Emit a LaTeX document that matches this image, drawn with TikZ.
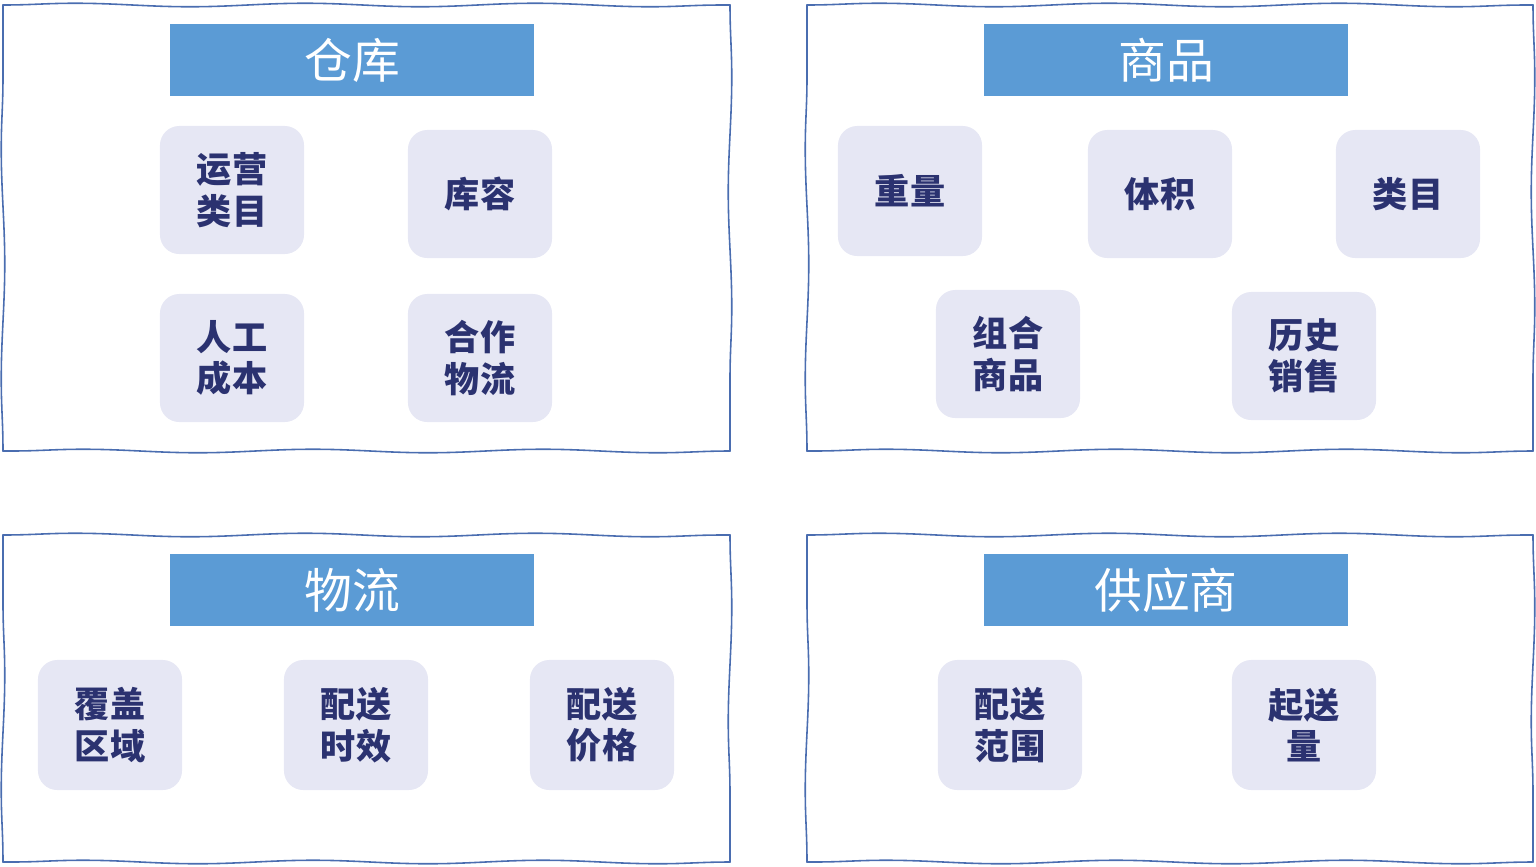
\documentclass[tikz,border=0pt]{standalone}
\usepackage{fontspec}
\newfontfamily\cjk{Noto Sans CJK SC}
\usetikzlibrary{decorations.pathmorphing}

\definecolor{frameBlue}{HTML}{4A6DB0}
\definecolor{titleBlue}{HTML}{5B9BD5}
\definecolor{boxFill}{HTML}{E6E7F4}
\definecolor{boxText}{HTML}{2B3270}

\tikzset{
    frameSide/.style={
        draw=frameBlue, line width=0.45pt, line cap=round,
        decorate, decoration={snake, segment length=2.3cm, amplitude=0.5pt}
    },
    titleBar/.style={
        fill=titleBlue, text=white, minimum width=3.64cm, minimum height=0.72cm,
        inner sep=0pt, font=\cjk\fontsize{13.6pt}{16pt}\selectfont
    },
    featureBox/.style={
        fill=boxFill, text=boxText, rounded corners=5.5pt,
        minimum width=1.44cm, minimum height=1.28cm, inner sep=0pt, align=center,
        font=\cjk\bfseries\fontsize{10pt}{11.8pt}\selectfont
    }
}

% Hand-drawn frame, one side at a time
\newcommand{\wavyFrame}[4]{%
    \draw[frameSide] (#1,#2) -- (#3,#2);
    \draw[frameSide] (#3,#2) -- (#3,#4);
    \draw[frameSide] (#3,#4) -- (#1,#4);
    \draw[frameSide] (#1,#4) -- (#1,#2);
}

\begin{document}
\begin{tikzpicture}[x=0.01cm, y=-0.01cm]

\useasboundingbox (0,0) rectangle (1536,866);

% Frames
\wavyFrame{3}{5}{730}{451}
\wavyFrame{807}{5}{1533}{451}
\wavyFrame{3}{535}{730}{862}
\wavyFrame{807}{535}{1533}{862}

% Titles
\node[titleBar] (warehouse) at (352,60) {仓库};
\node[titleBar] (goods) at (1166,60) {商品};
\node[titleBar] (logistics) at (352,590) {物流};
\node[titleBar] (supplier) at (1166,590) {供应商};

% Warehouse features
\node[featureBox] (opsCategory) at (232,190) {运营\\类目};
\node[featureBox] (capacity) at (480,194) {库容};
\node[featureBox] (laborCost) at (232,358) {人工\\成本};
\node[featureBox] (partnerLogistics) at (480,358) {合作\\物流};

% Goods features
\node[featureBox, minimum height=1.3cm] (weight) at (910,191) {重量};
\node[featureBox] (volume) at (1160,194) {体积};
\node[featureBox] (category) at (1408,194) {类目};
\node[featureBox] (bundle) at (1008,354) {组合\\商品};
\node[featureBox] (salesHistory) at (1304,356) {历史\\销售};

% Logistics features
\node[featureBox, minimum height=1.3cm] (coverage) at (110,725) {覆盖\\区域};
\node[featureBox, minimum height=1.3cm] (deliveryTime) at (356,725) {配送\\时效};
\node[featureBox, minimum height=1.3cm] (deliveryPrice) at (602,725) {配送\\价格};

% Supplier features
\node[featureBox, minimum height=1.3cm] (deliveryRange) at (1010,725) {配送\\范围};
\node[featureBox, minimum height=1.3cm] (minOrder) at (1304,725) {起送\\量};

\end{tikzpicture}
\end{document}
